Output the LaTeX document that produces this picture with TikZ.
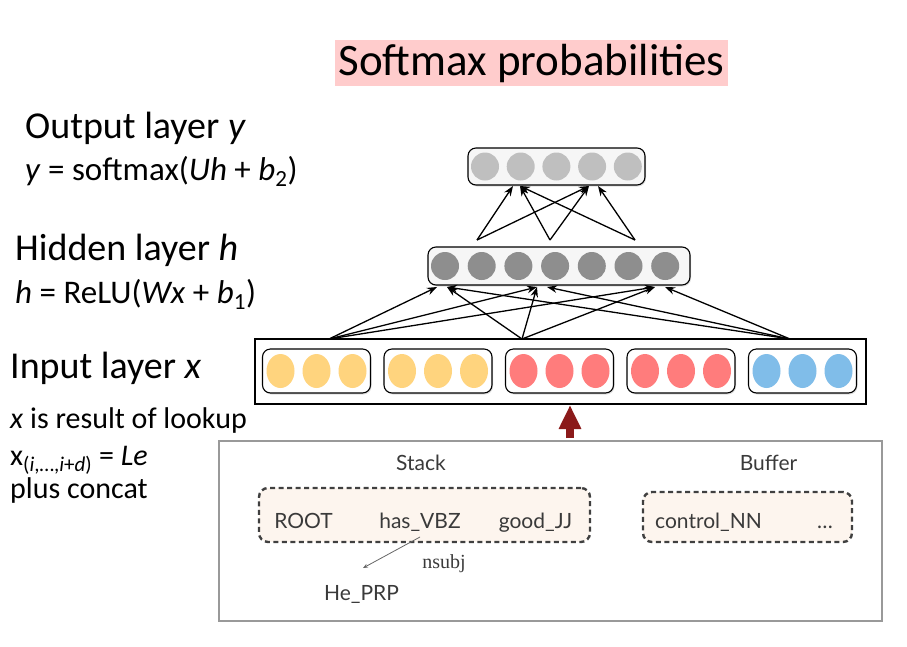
\documentclass[tikz,border=0pt]{standalone}
\usepackage{fontspec}
\setmainfont{Carlito}
\newfontfamily\panelfont{Lato}
\newfontfamily\relfont{Liberation Serif}
\usetikzlibrary{arrows.meta,shapes.geometric,shadows}
\definecolor{titlepink}{HTML}{FFCCCC}
\definecolor{outgray}{HTML}{BFBFBF}
\definecolor{hidgray}{HTML}{8E8E8E}
\definecolor{wordyellow}{HTML}{FFD47E}
\definecolor{tagred}{HTML}{FF7C7C}
\definecolor{arcblue}{HTML}{80BDE9}
\definecolor{boxfill}{HTML}{F6F6F6}
\definecolor{upred}{HTML}{8B1A1A}
\definecolor{stackfill}{HTML}{FDF5EE}
\definecolor{paneltext}{HTML}{3A3A3A}

\begin{document}
\begin{tikzpicture}[x=1pt,y=-1pt,
		layerbox/.style={draw,line width=1.1pt,rounded corners=8pt,fill=boxfill,
			drop shadow={opacity=0.25,shadow xshift=1pt,shadow yshift=-1.5pt}},
		unit/.style={circle,inner sep=0pt,minimum size=28pt},
		wordunit/.style={ellipse,inner sep=0pt,minimum width=28pt,minimum height=34pt},
		conn/.style={line width=1.3pt,-{Stealth[length=10pt,width=7.5pt]}},
		biglabel/.style={anchor=base west,inner sep=0pt,font=\fontsize{38}{42}\selectfont},
		smalllabel/.style={anchor=base west,inner sep=0pt,font=\fontsize{30}{34}\selectfont},
		eqlabel/.style={anchor=base west,inner sep=0pt,font=\fontsize{33}{36}\selectfont},
		wordbox/.style={draw=black!75,line width=2.4pt,dash pattern=on 5pt off 3.5pt,rounded corners=9pt,fill=stackfill},
		panelword/.style={anchor=base,inner sep=0pt,text=paneltext,font=\panelfont\fontsize{21}{24}\selectfont}]
	\useasboundingbox (0,0) rectangle (907,646);

	% title
	\node[fill=titlepink,minimum width=393pt,minimum height=46pt,inner sep=0pt,
		font=\fontsize{45}{50}\selectfont] (title) at (531.5,63) {Softmax probabilities};

	% left-hand labels
	\node[biglabel] (outlab) at (25,138) {Output layer \textit{y}};
	\node[eqlabel] (outeq) at (25,180) {\textit{y} = softmax(\textit{Uh} + \textit{b}\textsubscript{2})};
	\node[biglabel] (hidlab) at (15,260) {Hidden layer \textit{h}};
	\node[eqlabel] (hideq) at (15,303) {\textit{h} = ReLU(\textit{Wx} + \textit{b}\textsubscript{1})};
	\node[biglabel] (inlab) at (10,378) {Input layer \textit{x}};
	\node[smalllabel] (inl1) at (10,428) {\textit{x} is result of lookup};
	\node[smalllabel] (inl2) at (10,465) {x\textsubscript{(\textit{i},\dots,\textit{i}+\textit{d})} = \textit{Le}};
	\node[smalllabel] (inl3) at (10,498) {plus concat};

	% output layer
	\node[layerbox,minimum width=177pt,minimum height=37pt] (outbox) at (556.5,166.5) {};
	\foreach \i in {1,...,5}
		\node[unit,fill=outgray] (out\i) at ({485+35.7*(\i-1)},166.5) {};

	% hidden layer
	\node[layerbox,minimum width=262pt,minimum height=38pt] (hidbox) at (559,266) {};
	\foreach \i in {1,...,7}
		\node[unit,fill=hidgray] (hid\i) at ({445+36.7*(\i-1)},266) {};

	% input layer
	\node[draw,line width=2pt,minimum width=611pt,minimum height=65pt,inner sep=0pt] (inbox) at (560.5,371.5) {};
	\foreach \g/\col in {1/wordyellow,2/wordyellow,3/tagred,4/tagred,5/arcblue}{
		\node[layerbox,fill=white,minimum width=108pt,minimum height=44pt] (grp\g) at ({316.5+121.5*(\g-1)},371) {};
		\foreach \k in {1,2,3}
			\node[wordunit,fill=\col] (in\g\k) at ({316.5+121.5*(\g-1)+36*(\k-2)},371) {};
	}

	% connectors hidden -> output
	\coordinate (hs1) at (477,240);
	\coordinate (hs2) at (550,240);
	\coordinate (hs3) at (635,240);
	\coordinate (ot1) at (513,186);
	\coordinate (ot2) at (520,186);
	\coordinate (ot3) at (589,186);
	\coordinate (ot4) at (598,186);
	\foreach \s/\t in {hs1/ot1,hs1/ot3,hs2/ot2,hs2/ot3,hs3/ot2,hs3/ot4}
		\draw[conn] (\s) -- (\t);

	% connectors input -> hidden
	\coordinate (is1) at (329,339);
	\coordinate (is2) at (522,339);
	\coordinate (is3) at (790,339);
	\coordinate (ht1) at (437,287);
	\coordinate (ht2) at (447,287);
	\coordinate (ht3) at (537,287);
	\coordinate (ht4) at (547,287);
	\coordinate (ht5) at (655,287);
	\coordinate (ht6) at (665,287);
	\foreach \s/\t in {is1/ht1,is1/ht3,is1/ht5,is2/ht2,is2/ht3,is2/ht5,is3/ht2,is3/ht4,is3/ht6}
		\draw[conn] (\s) -- (\t);

	% configuration panel
	\node[draw=black!40,line width=1.5pt,minimum width=663pt,minimum height=180pt,inner sep=0pt] (panel) at (550.5,531) {};
	\coordinate (uptail) at (570,438);
	\draw[upred,line width=8pt,-{Triangle[length=24pt,width=21pt]}] (uptail) -- (inbox.south -| uptail);

	\node[panelword] (stacklab) at (421,470) {Stack};
	\node[panelword] (bufferlab) at (768.5,470) {Buffer};
	\node[wordbox,minimum width=331pt,minimum height=54pt] (stack) at (424.5,515) {};
	\node[wordbox,minimum width=209pt,minimum height=50pt] (buffer) at (747.5,517) {};
	\node[panelword] (root) at (303.5,528) {ROOT};
	\node[panelword] (hasvbz) at (420,528) {has\_VBZ};
	\node[panelword] (goodjj) at (535.5,528) {good\_JJ};
	\node[panelword] (controlnn) at (708.5,528) {control\_NN};
	\node[panelword] (dots) at (825,528) {\dots};
	\node[panelword] (heprp) at (361.5,600) {He\_PRP};
	\node[anchor=base,inner sep=0pt,text=paneltext,font=\relfont\fontsize{20}{22}\selectfont] (nsubj) at (444,568) {nsubj};
	\coordinate (arcfrom) at (420,537);
	\coordinate (arcto) at (363,568);
	\draw[black!60,line width=0.8pt,-{Stealth[length=5pt,width=4pt]}] (arcfrom) -- (arcto);
\end{tikzpicture}
\end{document}
